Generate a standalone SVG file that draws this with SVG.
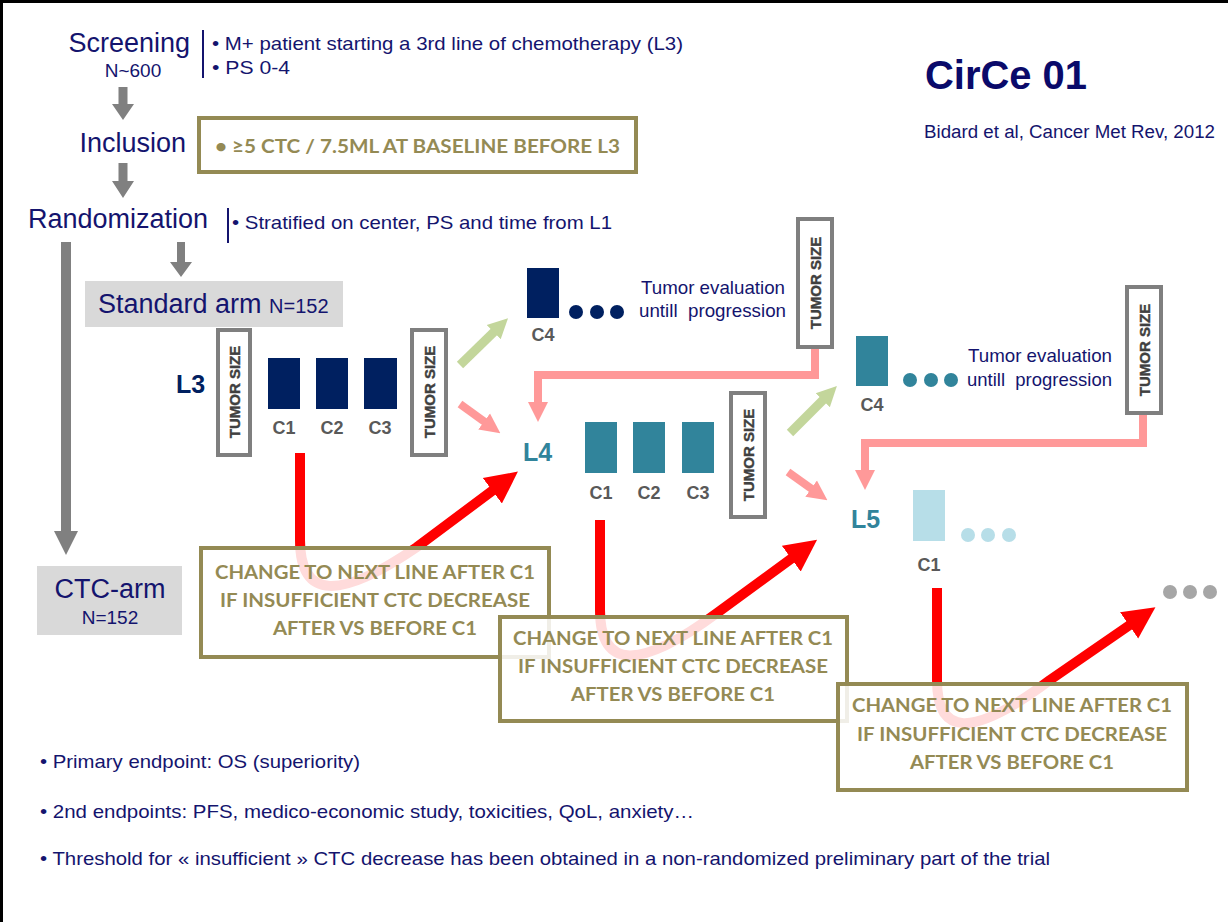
<svg xmlns="http://www.w3.org/2000/svg" width="1228" height="922" viewBox="0 0 1228 922">
<style>
text{font-family:"Liberation Sans",Arial,sans-serif}
.nv{fill:#14146E}
.big{font-size:27px}
.sm{font-size:19px}
.ts{font-size:15px;font-weight:bold;fill:#404040;stroke:#404040;stroke-width:0.4}
.tsb{fill:#fff;stroke:#7F7F7F;stroke-width:4}
.cl{font-size:18px;font-weight:bold;fill:#595959;text-anchor:middle}
.lb{font-size:25px;font-weight:bold}
.ob{fill:#fff;fill-opacity:0.86;stroke:#948A54;stroke-width:4}
.ot{font-family:Lato,"Open Sans",sans-serif;font-weight:bold;font-size:19px;fill:#948A54;text-anchor:middle}
.gray{fill:#808080}
.pk{fill:none;stroke:#FF9999;stroke-width:8}
.gr{fill:none;stroke:#C3D69B;stroke-width:9}
.rd{fill:none;stroke:#FF0000;stroke-width:10}
</style>
<defs>
<marker id="hp" markerUnits="userSpaceOnUse" markerWidth="20" markerHeight="24" viewBox="0 0 10 10" refX="3" refY="5" orient="auto"><path d="M0,0 L10,5 L0,10 z" fill="#FF9999"/></marker>
<marker id="hg" markerUnits="userSpaceOnUse" markerWidth="20" markerHeight="24" viewBox="0 0 10 10" refX="3" refY="5" orient="auto"><path d="M0,0 L10,5 L0,10 z" fill="#C3D69B"/></marker>
<marker id="hr" markerUnits="userSpaceOnUse" markerWidth="32" markerHeight="34" viewBox="0 0 10 10" refX="3" refY="5" orient="auto"><path d="M0,0 L10,5 L0,10 z" fill="#FF0000"/></marker>
</defs>
<rect x="0" y="0" width="1228" height="922" fill="#fff"/>
<path d="M1.5,922 V1.5 H1228" fill="none" stroke="#000" stroke-width="3"/>

<g id="title">
<text x="925" y="89" style="font-size:40px;font-weight:bold" fill="#0A0A6A" textLength="162" lengthAdjust="spacingAndGlyphs">CirCe 01</text>
<text x="924" y="138" class="nv" style="font-size:18px" textLength="291" lengthAdjust="spacingAndGlyphs">Bidard et al, Cancer Met Rev, 2012</text>
</g>

<g id="screening">
<text x="190" y="52" class="nv big" text-anchor="end">Screening</text>
<text x="133" y="77" class="nv" style="font-size:19px" text-anchor="middle">N~600</text>
<line x1="203" y1="30" x2="203" y2="78" stroke="#14146E" stroke-width="2"/>
<text x="212" y="50" class="nv sm" textLength="471" lengthAdjust="spacingAndGlyphs">• M+ patient starting a 3rd line of chemotherapy (L3)</text>
<text x="212" y="74" class="nv sm" textLength="78" lengthAdjust="spacingAndGlyphs">• PS 0-4</text>
</g>

<g id="inclusion">
<text x="186" y="152" class="nv big" text-anchor="end">Inclusion</text>
<rect x="199" y="118" width="437" height="54" fill="#fff" stroke="#948A54" stroke-width="4"/>
<text x="215" y="153" class="ot" style="text-anchor:start" textLength="405" lengthAdjust="spacingAndGlyphs">• ≥5 CTC / 7.5ML AT BASELINE BEFORE L3</text>
</g>

<g id="randomization">
<text x="208" y="228" class="nv big" text-anchor="end">Randomization</text>
<line x1="228" y1="208" x2="228" y2="243" stroke="#14146E" stroke-width="2"/>
<text x="232" y="229" class="nv sm" textLength="380" lengthAdjust="spacingAndGlyphs">• Stratified on center, PS and time from L1</text>
</g>

<g id="standard-arm">
<rect x="85" y="281" width="258" height="46" fill="#D9D9D9"/>
<text x="98" y="313" class="nv big">Standard arm <tspan style="font-size:20px">N=152</tspan></text>
</g>

<g id="ctc-arm">
<rect x="37" y="566" width="145" height="69" fill="#D9D9D9"/>
<text x="110" y="598" class="nv big" text-anchor="middle">CTC-arm</text>
<text x="110" y="624" class="nv" style="font-size:19px" text-anchor="middle">N=152</text>
</g>

<g id="connectors">
<polygon class="gray" points="118.5,87 127.5,87 127.5,104 134,104 123,120 112,104 118.5,104"/>
<polygon class="gray" points="118.5,163 127.5,163 127.5,181 134,181 123,198 112,181 118.5,181"/>
<polygon class="gray" points="61,242 71,242 71,531 78,531 66,555 54,531 61,531"/>
<polygon class="gray" points="177,242 185,242 185,262 192,262 181,277 170,262 177,262"/>
<line class="gr" x1="460" y1="365" x2="498" y2="328" marker-end="url(#hg)"/>
<line class="pk" x1="460" y1="404" x2="489" y2="425" marker-end="url(#hp)"/>
<path class="pk" d="M815,347 V375 H538 V408" marker-end="url(#hp)"/>
<line class="gr" x1="790" y1="433" x2="827" y2="396" marker-end="url(#hg)"/>
<line class="pk" x1="788" y1="472" x2="816" y2="492" marker-end="url(#hp)"/>
<path class="pk" d="M1143,413 V443 H865 V476" marker-end="url(#hp)"/>
<path class="rd" d="M300,453 L300,540 C300,600 340,600 417,547 L500,485" marker-end="url(#hr)"/>
<path class="rd" d="M600,520 L600,610 C600,670 640,670 717,613 L799,553" marker-end="url(#hr)"/>
<path class="rd" d="M937,588 L937,680 C937,735 970,740 1050,680 L1137,620" marker-end="url(#hr)"/>
</g>

<g id="L3">
<text x="176" y="393" class="lb" fill="#002060">L3</text>
<rect class="tsb" x="218" y="330" width="32" height="125"/>
<text class="ts" transform="translate(234,392) rotate(-90)" y="5.5" text-anchor="middle">TUMOR SIZE</text>
<rect x="268" y="358" width="32" height="51" fill="#002060"/>
<rect x="316" y="358" width="32" height="51" fill="#002060"/>
<rect x="364" y="358" width="33" height="51" fill="#002060"/>
<text class="cl" x="284" y="434">C1</text>
<text class="cl" x="332" y="434">C2</text>
<text class="cl" x="380" y="434">C3</text>
<rect class="tsb" x="412" y="330" width="34" height="125"/>
<text class="ts" transform="translate(429,392) rotate(-90)" y="5.5" text-anchor="middle">TUMOR SIZE</text>
</g>

<g id="L3-C4">
<rect x="527" y="268" width="32" height="50" fill="#002060"/>
<text class="cl" x="543" y="341">C4</text>
<circle cx="576" cy="312" r="7" fill="#002060"/>
<circle cx="597" cy="312" r="7" fill="#002060"/>
<circle cx="617" cy="312" r="7" fill="#002060"/>
<text x="641" y="294" class="nv sm" textLength="144" lengthAdjust="spacingAndGlyphs">Tumor evaluation</text>
<text x="639" y="317" class="nv sm" textLength="147" lengthAdjust="spacingAndGlyphs" xml:space="preserve">untill  progression</text>
<rect class="tsb" x="798" y="219" width="34" height="128"/>
<text class="ts" transform="translate(815,283) rotate(-90)" y="5.5" text-anchor="middle">TUMOR SIZE</text>
</g>

<g id="L4">
<text x="523" y="461" class="lb" fill="#31849B">L4</text>
<rect x="585" y="422" width="32" height="51" fill="#31849B"/>
<rect x="633" y="422" width="32" height="51" fill="#31849B"/>
<rect x="682" y="422" width="32" height="51" fill="#31849B"/>
<text class="cl" x="601" y="499">C1</text>
<text class="cl" x="649" y="499">C2</text>
<text class="cl" x="698" y="499">C3</text>
<rect class="tsb" x="731" y="393" width="34" height="124"/>
<text class="ts" transform="translate(748,455) rotate(-90)" y="5.5" text-anchor="middle">TUMOR SIZE</text>
</g>

<g id="L4-C4">
<rect x="856" y="336" width="32" height="50" fill="#31849B"/>
<text class="cl" x="872" y="411">C4</text>
<circle cx="910" cy="380" r="7" fill="#31849B"/>
<circle cx="931" cy="380" r="7" fill="#31849B"/>
<circle cx="951" cy="380" r="7" fill="#31849B"/>
<text x="968" y="362" class="nv sm" textLength="144" lengthAdjust="spacingAndGlyphs">Tumor evaluation</text>
<text x="967" y="386" class="nv sm" textLength="145" lengthAdjust="spacingAndGlyphs" xml:space="preserve">untill  progression</text>
<rect class="tsb" x="1127" y="287" width="34" height="126"/>
<text class="ts" transform="translate(1144,350) rotate(-90)" y="5.5" text-anchor="middle">TUMOR SIZE</text>
</g>

<g id="L5">
<text x="851" y="528" class="lb" fill="#31849B">L5</text>
<rect x="913" y="490" width="32" height="51" fill="#B7DEE8"/>
<text class="cl" x="929" y="571">C1</text>
<circle cx="968" cy="535" r="7" fill="#B7DEE8"/>
<circle cx="988" cy="535" r="7" fill="#B7DEE8"/>
<circle cx="1009" cy="535" r="7" fill="#B7DEE8"/>
</g>

<g id="more">
<circle cx="1170" cy="592" r="7" fill="#A6A6A6"/>
<circle cx="1190" cy="592" r="7" fill="#A6A6A6"/>
<circle cx="1210" cy="592" r="7" fill="#A6A6A6"/>
</g>

<g id="box-A">
<rect class="ob" x="201" y="548" width="348" height="109"/>
<text class="ot" x="375" y="579" textLength="320" lengthAdjust="spacingAndGlyphs">CHANGE TO NEXT LINE AFTER C1</text>
<text class="ot" x="375" y="607" textLength="310" lengthAdjust="spacingAndGlyphs">IF INSUFFICIENT CTC DECREASE</text>
<text class="ot" x="375" y="635" textLength="204" lengthAdjust="spacingAndGlyphs">AFTER VS BEFORE C1</text>
</g>

<g id="box-B">
<rect class="ob" x="500" y="617" width="347" height="104"/>
<text class="ot" x="673" y="645" textLength="320" lengthAdjust="spacingAndGlyphs">CHANGE TO NEXT LINE AFTER C1</text>
<text class="ot" x="673" y="673" textLength="310" lengthAdjust="spacingAndGlyphs">IF INSUFFICIENT CTC DECREASE</text>
<text class="ot" x="673" y="701" textLength="204" lengthAdjust="spacingAndGlyphs">AFTER VS BEFORE C1</text>
</g>

<g id="box-C">
<rect class="ob" x="838" y="684" width="349" height="106"/>
<text class="ot" x="1012" y="712" textLength="320" lengthAdjust="spacingAndGlyphs">CHANGE TO NEXT LINE AFTER C1</text>
<text class="ot" x="1012" y="741" textLength="310" lengthAdjust="spacingAndGlyphs">IF INSUFFICIENT CTC DECREASE</text>
<text class="ot" x="1012" y="769" textLength="204" lengthAdjust="spacingAndGlyphs">AFTER VS BEFORE C1</text>
</g>

<g id="notes">
<text x="40" y="768" class="nv sm" textLength="320" lengthAdjust="spacingAndGlyphs">• Primary endpoint: OS (superiority)</text>
<text x="40" y="818" class="nv sm" textLength="654" lengthAdjust="spacingAndGlyphs">• 2nd endpoints: PFS, medico-economic study, toxicities, QoL, anxiety…</text>
<text x="40" y="865" class="nv sm" textLength="1010" lengthAdjust="spacingAndGlyphs">• Threshold for « insufficient » CTC decrease has been obtained in a non-randomized preliminary part of the trial</text>
</g>
</svg>
